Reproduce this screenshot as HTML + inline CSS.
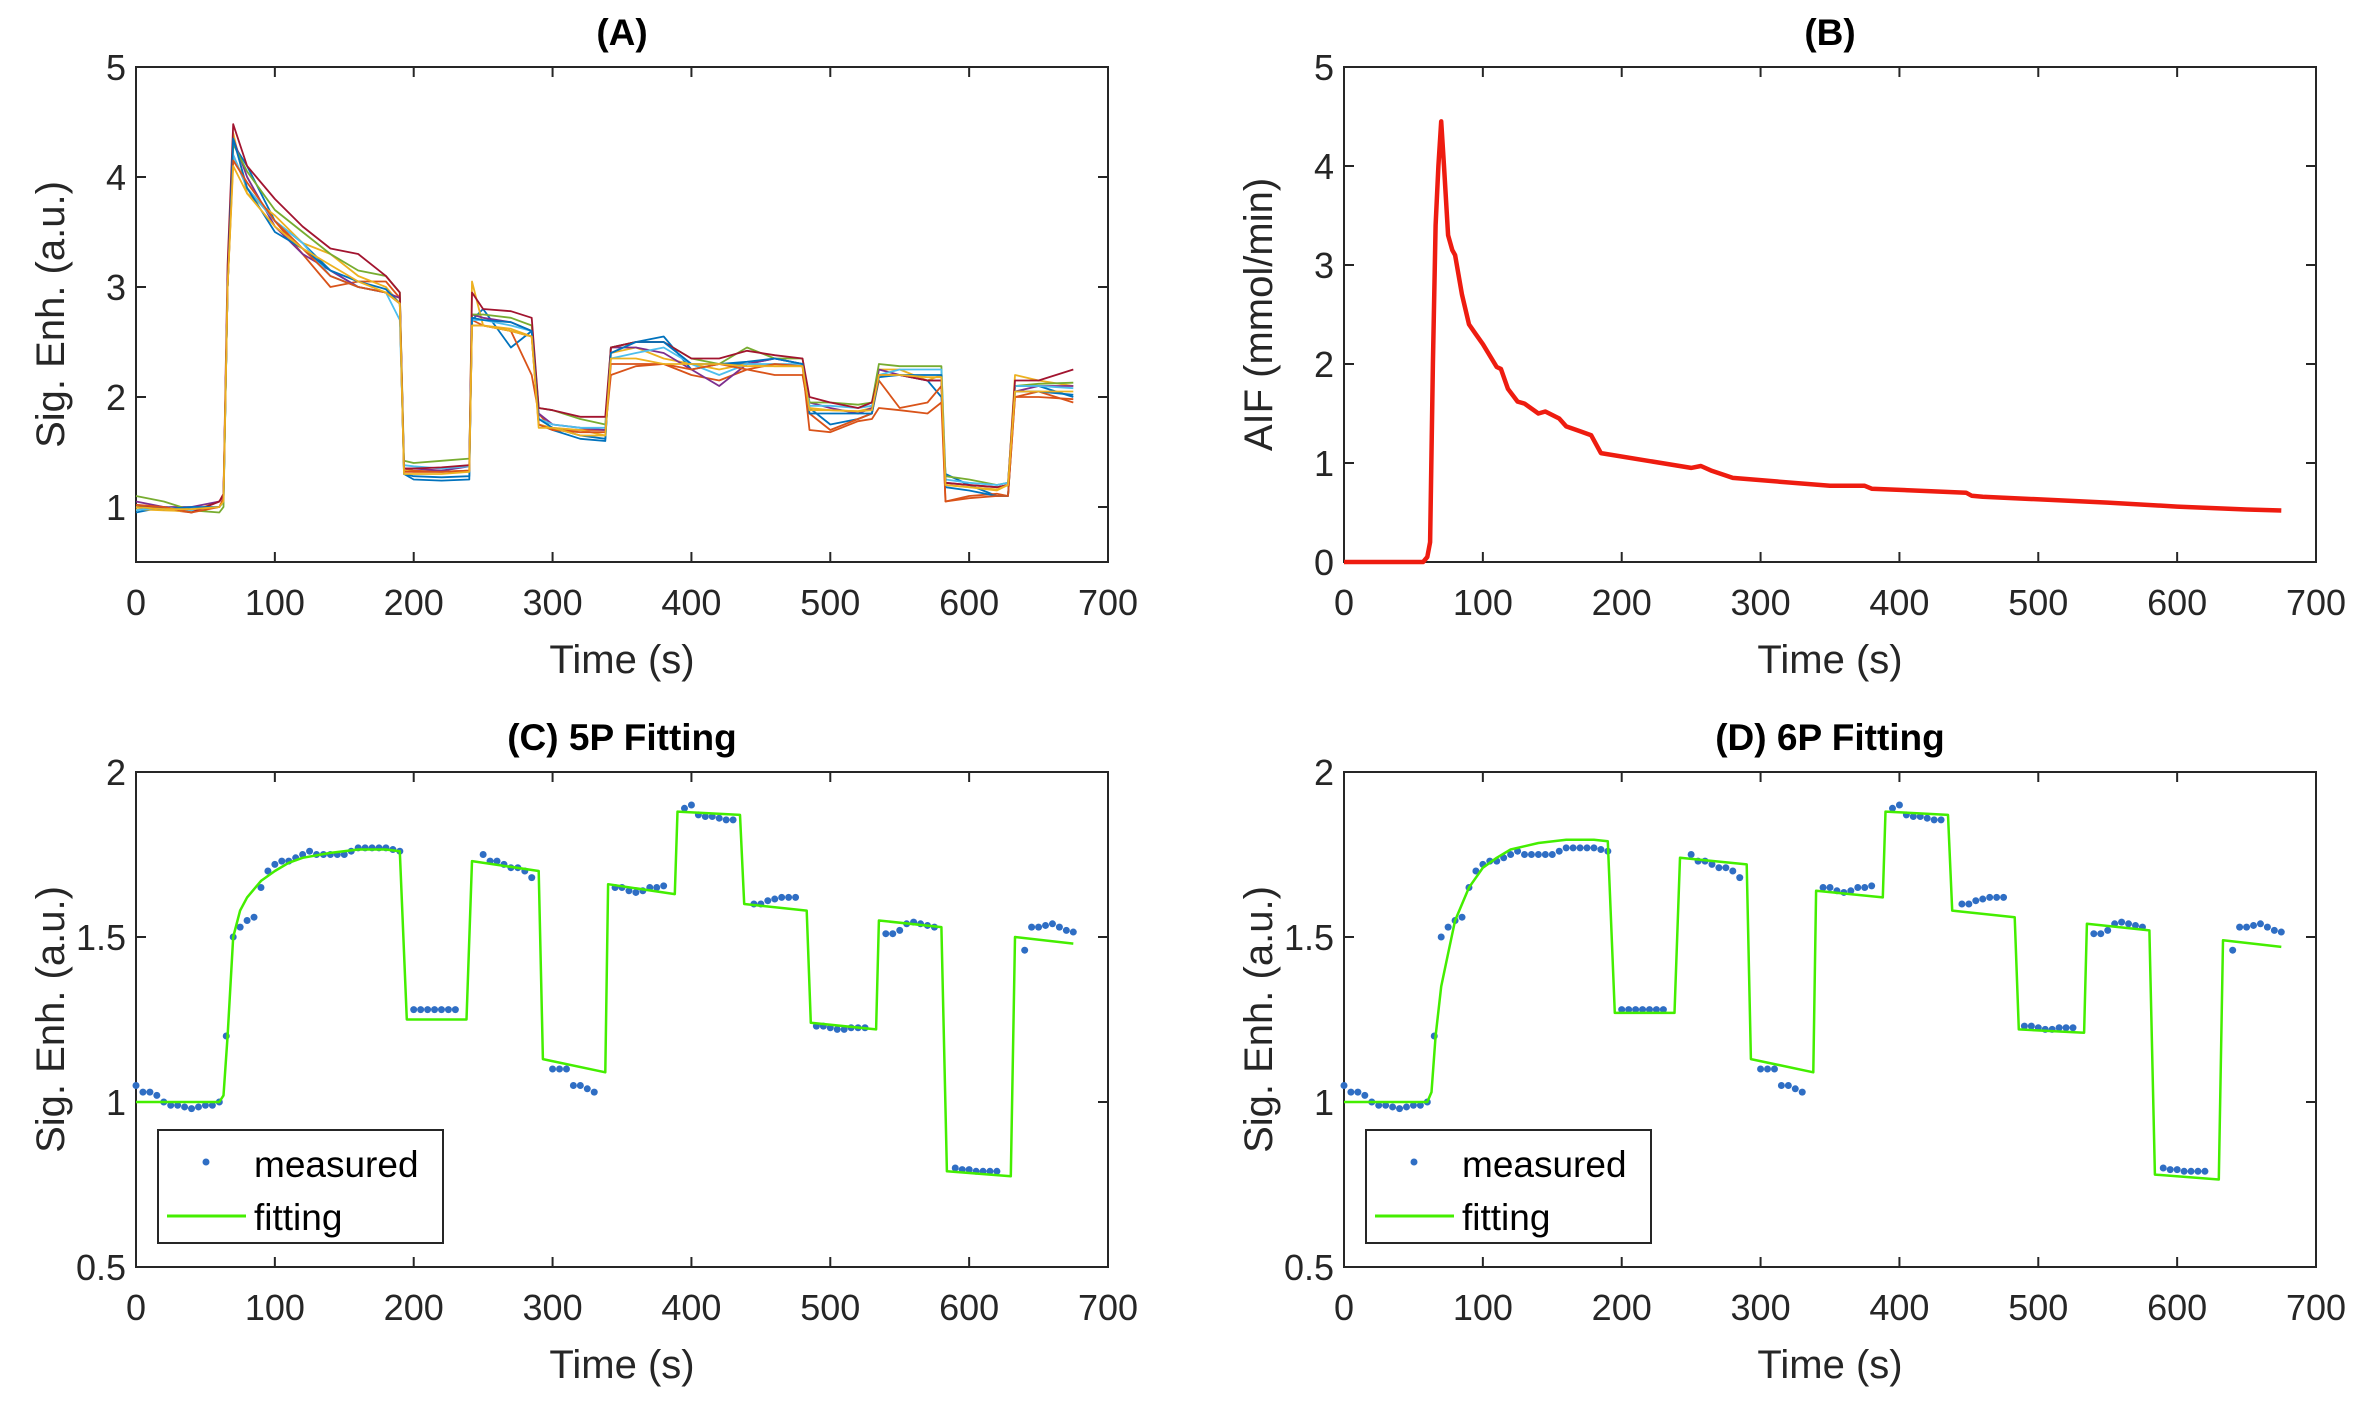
<!DOCTYPE html>
<html><head><meta charset="utf-8"><style>
html,body{margin:0;padding:0;background:#fff;}
svg{display:block;font-family:"Liberation Sans",sans-serif;}
</style></head><body>
<svg id="fig" width="2362" height="1401" viewBox="0 0 2362 1401" xmlns="http://www.w3.org/2000/svg"></svg>
<script>
// ---- Panel A data ----
const timesA=[0,20,40,60,63,66,70,80,100,120,140,160,180,190,193,200,220,240,242,250,270,285,290,300,320,338,342,360,380,400,420,440,460,480,485,500,520,530,535,550,570,580,583,600,620,628,633,650,675];
const sigA1=[0.95,1.0,0.98,1.0,1.05,3.0,4.3,4.1,3.6,3.4,3.15,3.0,2.95,2.85,1.3,1.25,1.24,1.25,2.7,2.8,2.45,2.6,1.75,1.7,1.62,1.6,2.45,2.5,2.55,2.25,2.3,2.3,2.35,2.3,1.9,1.75,1.8,1.85,2.2,2.2,2.15,2.0,1.3,1.2,1.1,1.1,2.1,2.1,2.0];
const sigA2=[1.0,0.98,0.95,1.05,1.1,3.0,4.2,3.9,3.6,3.3,3.0,3.05,3.05,2.9,1.35,1.33,1.32,1.33,2.7,2.65,2.6,2.2,1.85,1.7,1.7,1.7,2.2,2.28,2.3,2.2,2.15,2.25,2.2,2.2,1.85,1.7,1.8,1.85,2.15,1.9,1.95,2.1,1.05,1.1,1.12,1.1,2.0,2.05,1.95];
const sigA3=[0.98,0.97,0.96,1.05,1.1,3.0,4.4,3.85,3.65,3.4,3.3,3.1,3.0,2.85,1.33,1.32,1.32,1.33,3.05,2.65,2.62,2.55,1.75,1.72,1.7,1.65,2.4,2.45,2.35,2.3,2.25,2.3,2.28,2.28,1.9,1.88,1.87,1.9,2.25,2.25,2.15,2.2,1.2,1.18,1.15,1.2,2.2,2.15,2.1];
const sigA4=[1.05,1.0,1.0,1.05,1.1,3.0,4.35,4.0,3.55,3.3,3.15,3.0,2.95,2.9,1.35,1.35,1.33,1.37,2.75,2.72,2.68,2.6,1.85,1.75,1.72,1.7,2.45,2.45,2.4,2.25,2.1,2.3,2.35,2.3,1.95,1.9,1.85,1.9,2.25,2.2,2.15,2.15,1.22,1.2,1.18,1.2,2.05,2.1,2.1];
const sigA5=[1.1,1.05,0.97,0.95,1.0,3.0,4.3,4.05,3.7,3.5,3.3,3.15,3.1,2.95,1.42,1.4,1.42,1.44,2.75,2.75,2.72,2.65,1.9,1.88,1.8,1.75,2.45,2.5,2.5,2.35,2.3,2.45,2.35,2.35,1.95,1.95,1.93,1.95,2.3,2.28,2.28,2.28,1.28,1.25,1.2,1.22,2.1,2.12,2.13];
const sigA6=[0.97,1.0,0.97,1.0,1.05,3.0,4.2,3.9,3.6,3.4,3.1,3.0,2.95,2.7,1.38,1.37,1.35,1.37,2.7,2.7,2.65,2.6,1.8,1.75,1.72,1.72,2.35,2.4,2.45,2.3,2.2,2.3,2.3,2.3,1.92,1.92,1.9,1.92,2.2,2.25,2.25,2.25,1.25,1.22,1.2,1.22,2.1,2.1,2.08];
const sigA7=[1.0,1.0,0.95,1.05,1.12,3.2,4.48,4.1,3.8,3.55,3.35,3.3,3.1,2.95,1.35,1.35,1.36,1.38,2.95,2.8,2.78,2.72,1.9,1.88,1.82,1.82,2.45,2.5,2.5,2.35,2.35,2.42,2.38,2.35,2.0,1.95,1.9,1.95,2.2,2.2,2.15,2.15,1.22,1.2,1.18,1.2,2.15,2.15,2.25];
const sigA8=[1.0,0.98,1.0,1.0,1.05,3.0,4.35,3.9,3.5,3.35,3.15,3.05,2.98,2.85,1.3,1.28,1.27,1.28,2.72,2.7,2.68,2.6,1.8,1.72,1.65,1.62,2.4,2.5,2.5,2.3,2.3,2.32,2.35,2.3,1.85,1.85,1.85,1.85,2.18,2.2,2.2,2.2,1.18,1.15,1.1,1.1,2.05,2.05,2.02];
const sigA9=[1.02,1.0,0.95,1.0,1.08,3.0,4.15,3.95,3.6,3.35,3.1,3.0,2.95,2.85,1.32,1.32,1.32,1.33,2.65,2.65,2.6,2.55,1.75,1.7,1.68,1.68,2.3,2.3,2.3,2.25,2.3,2.25,2.3,2.28,1.7,1.68,1.78,1.8,1.9,1.88,1.85,1.95,1.05,1.08,1.1,1.1,2.0,2.0,1.98];
const sigA10=[1.0,0.98,0.98,1.0,1.05,3.0,4.1,3.85,3.55,3.35,3.2,3.05,2.95,2.85,1.3,1.3,1.3,1.32,2.65,2.65,2.6,2.55,1.72,1.72,1.65,1.65,2.35,2.35,2.3,2.3,2.3,2.28,2.28,2.28,1.88,1.88,1.87,1.88,2.2,2.2,2.18,2.18,1.2,1.18,1.16,1.2,2.05,2.05,2.05];
// ---- Panel B data ----
const timesB=[0,57,60,62,64,66,68,70,72,75,78,80,85,90,95,100,110,113,118,125,130,140,145,155,160,170,178,185,250,257,265,280,350,375,380,448,452,460,550,600,650,675];
const aifB=[0,0,0.05,0.2,2.0,3.4,4.0,4.45,4.0,3.3,3.15,3.1,2.7,2.4,2.3,2.2,1.97,1.95,1.75,1.62,1.6,1.5,1.52,1.45,1.37,1.32,1.28,1.1,0.95,0.97,0.92,0.85,0.77,0.77,0.74,0.7,0.67,0.66,0.6,0.56,0.53,0.52];
// ---- Panels C/D measured ----
const measT=[0,5,10,15,20,25,30,35,40,45,50,55,60,65,70,75,80,85,90,95,100,105,110,115,120,125,130,135,140,145,150,155,160,165,170,175,180,185,190,200,205,210,215,220,225,230,250,255,260,265,270,275,280,285,300,305,310,315,320,325,330,345,350,355,360,365,370,375,380,395,400,405,410,415,420,425,430,445,450,455,460,465,470,475,490,495,500,505,510,515,520,525,540,545,550,555,560,565,570,575,590,595,600,605,610,615,620,640,645,650,655,660,665,670,675];
const measV=[1.05,1.03,1.03,1.02,1.0,0.99,0.99,0.985,0.98,0.985,0.99,0.99,1.0,1.2,1.5,1.53,1.55,1.56,1.65,1.7,1.72,1.73,1.73,1.74,1.75,1.76,1.75,1.75,1.75,1.75,1.75,1.76,1.77,1.77,1.77,1.77,1.77,1.765,1.76,1.28,1.28,1.28,1.28,1.28,1.28,1.28,1.75,1.73,1.73,1.72,1.71,1.71,1.7,1.68,1.1,1.1,1.1,1.05,1.05,1.04,1.03,1.65,1.65,1.64,1.635,1.64,1.65,1.65,1.655,1.89,1.9,1.87,1.865,1.865,1.86,1.855,1.855,1.6,1.6,1.61,1.615,1.62,1.62,1.62,1.23,1.23,1.225,1.22,1.22,1.225,1.225,1.225,1.51,1.51,1.52,1.54,1.545,1.54,1.535,1.53,0.8,0.795,0.795,0.79,0.79,0.79,0.79,1.46,1.53,1.53,1.535,1.54,1.53,1.52,1.515];
const fitT=[0,60,63,66,70,75,80,90,100,110,120,140,160,180,190,195,238,242,290,293,338,340,388,390,435,438,483,486,533,535,580,584,630,633,675];
const fitC=[1.0,1.0,1.02,1.2,1.5,1.58,1.62,1.67,1.7,1.725,1.74,1.755,1.765,1.765,1.76,1.25,1.25,1.73,1.7,1.13,1.09,1.66,1.63,1.88,1.87,1.6,1.58,1.24,1.22,1.55,1.53,0.79,0.775,1.5,1.48];
const fitD=[1.0,1.0,1.03,1.2,1.35,1.45,1.55,1.65,1.71,1.74,1.765,1.785,1.795,1.795,1.79,1.27,1.27,1.74,1.72,1.13,1.09,1.64,1.62,1.88,1.87,1.58,1.56,1.22,1.21,1.54,1.52,0.78,0.765,1.49,1.47];
const xTicks=[0,100,200,300,400,500,600,700];
const yTicksA=[1,2,3,4,5], yTicksB=[0,1,2,3,4,5], yTicksC=[0.5,1,1.5,2];
const yTickLabC=["0.5","1","1.5","2"];

const NS="http://www.w3.org/2000/svg";
const svg=document.getElementById('fig');
function mk(tag,attrs,parent){const e=document.createElementNS(NS,tag);for(const k in attrs)e.setAttribute(k,attrs[k]);(parent||svg).appendChild(e);return e;}

function axes(name,L,T,R,B,ymin,ymax,yt,ylab,title,ytl){
  const g=mk('g',{});
  
  
  const sx=v=>L+(v-0)/(700-0)*(R-L);
  const sy=v=>B-(v-ymin)/(ymax-ymin)*(B-T);
  const bx=mk('rect',{x:L,y:T,width:R-L,height:B-T,fill:'#fff',stroke:'#262626','stroke-width':2},g);
  
  
  xTicks.forEach(v=>{const x=sx(v);
    mk('line',{x1:x,y1:B,x2:x,y2:B-10,stroke:'#262626','stroke-width':2},g);
    mk('line',{x1:x,y1:T,x2:x,y2:T+10,stroke:'#262626','stroke-width':2},g);
    const t=mk('text',{x:x,y:B+53,'font-size':36,'text-anchor':'middle',fill:'#262626'},g);t.textContent=v;
    
    });
  yt.forEach((v,i)=>{const y=sy(v);
    mk('line',{x1:L,y1:y,x2:L+10,y2:y,stroke:'#262626','stroke-width':2},g);
    mk('line',{x1:R,y1:y,x2:R-10,y2:y,stroke:'#262626','stroke-width':2},g);
    const t=mk('text',{x:L-10,y:y+13,'font-size':36,'text-anchor':'end',fill:'#262626'},g);t.textContent=ytl?ytl[i]:v;
    
    });
  const xl=mk('text',{x:(L+R)/2,y:B+111,'font-size':40,'text-anchor':'middle',fill:'#262626'},g);xl.textContent='Time (s)';
  
  
  const yx=L-72, yy=(T+B)/2;
  const yl=mk('text',{x:yx,y:yy,'font-size':40,'text-anchor':'middle',fill:'#262626',transform:`rotate(-90 ${yx} ${yy})`},g);yl.textContent=ylab;
  
  
  const tt=mk('text',{x:(L+R)/2,y:T-22,'font-size':37,'font-weight':'bold','text-anchor':'middle',fill:'#000'},g);tt.textContent=title;
  
  
  return {g,sx,sy};
}
function line(ax,xs,ys,color,w,name){
  const d=xs.map((x,i)=>(i?'L':'M')+ax.sx(x).toFixed(1)+' '+ax.sy(ys[i]).toFixed(1)).join(' ');
  const p=mk('path',{d:d,fill:'none',stroke:color,'stroke-width':w,'stroke-linejoin':'round'},ax.g);
  
  
}
function dots(ax,xs,ys){
  xs.forEach((x,i)=>{const c=mk('circle',{cx:ax.sx(x),cy:ax.sy(ys[i]),r:3.5,fill:'#2f6ec4'},ax.g);
    
    });
}
function legend(ax,L){
  const lg=mk('g',{},ax.g);
  
  
  mk('rect',{x:L+22,y:1130,width:285,height:113,fill:'#fff',stroke:'#262626','stroke-width':2},lg);
  mk('circle',{cx:L+70,cy:1162,r:3.5,fill:'#2f6ec4'},lg);
  const t1=mk('text',{x:L+118,y:1177,'font-size':37,fill:'#000'},lg);t1.textContent='measured';
  
  
  mk('line',{x1:L+31,y1:1216,x2:L+110,y2:1216,stroke:'#44ee00','stroke-width':3},lg);
  const t2=mk('text',{x:L+118,y:1230,'font-size':37,fill:'#000'},lg);t2.textContent='fitting';
  
  
}

const cols=['#0072BD','#D95319','#EDB120','#7E2F8E','#77AC30','#4DBEEE','#A2142F','#0072BD','#D95319','#EDB120'];
const seriesA=[sigA1,sigA2,sigA3,sigA4,sigA5,sigA6,sigA7,sigA8,sigA9,sigA10];
const A=axes('panel-a',136,67,1108,562,0.5,5,yTicksA,'Sig. Enh. (a.u.)','(A)');
seriesA.forEach((s,i)=>line(A,timesA,s,cols[i],1.8,'signal-line-'+(i+1)));
const Bp=axes('panel-b',1344,67,2316,562,0,5,yTicksB,'AIF (mmol/min)','(B)');
line(Bp,timesB,aifB,'#ee1c10',4.5,'aif-line');
const C=axes('panel-c',136,772,1108,1267,0.5,2,yTicksC,'Sig. Enh. (a.u.)','(C) 5P Fitting',yTickLabC);
dots(C,measT,measV);line(C,fitT,fitC,'#44ee00',2.5,'fitting-line');legend(C,136);
const D=axes('panel-d',1344,772,2316,1267,0.5,2,yTicksC,'Sig. Enh. (a.u.)','(D) 6P Fitting',yTickLabC);
dots(D,measT,measV);line(D,fitT,fitD,'#44ee00',2.5,'fitting-line');legend(D,1344);
</script>
</body></html>
